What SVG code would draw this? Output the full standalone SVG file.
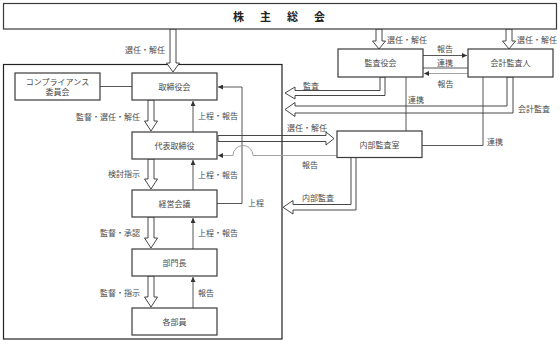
<svg xmlns="http://www.w3.org/2000/svg" width="560" height="344" viewBox="0 0 560 344">
<style>
.box{fill:#fff;stroke:#3a3a3a;stroke-width:1.2}
.t{font-family:"Noto Sans CJK JP","Noto Sans",sans-serif;font-size:8px;fill:#4a4a4a}
.c{text-anchor:middle}
.e{text-anchor:end}
.ln{fill:none;stroke:#444;stroke-width:0.9}
.gl{fill:none;stroke:#999;stroke-width:0.9}
.ha{fill:#fff;stroke:#333;stroke-width:0.9}
.hn{fill:none;stroke:#333;stroke-width:0.9}
.title{font-family:"Noto Sans CJK JP","Noto Sans",sans-serif;font-size:11px;font-weight:bold;fill:#222}
</style>
<defs>
<marker id="ah" markerWidth="5" markerHeight="5" refX="5" refY="2.5" orient="auto" markerUnits="userSpaceOnUse"><path d="M0,0 L5,2.5 L0,5 Z" fill="#333"/></marker>
</defs>
<rect x="0" y="0" width="560" height="344" fill="#fff"/>
<g id="outer"><rect x="3.5" y="64.5" width="278.5" height="274.5" fill="none" stroke="#222" stroke-width="1.2"/></g>
<g id="hollow-arrows">
<path class="ha" d="M170,29 V63 H166.5 L173,72 L179.5,63 H176 V29 Z"/>
<path class="ha" d="M376,29 V41 H372.5 L379,49 L385.5,41 H382 V29 Z"/>
<path class="ha" d="M506,29 V41 H502.5 L509,49 L515.5,41 H512 V29 Z"/>
<path class="ha" d="M148,100 V121 H144.5 L151,131 L157.5,121 H154 V100 Z"/>
<path class="ha" d="M148,159 V179 H144.5 L151,189 L157.5,179 H154 V159 Z"/>
<path class="ha" d="M148,217 V238 H144.5 L151,248 L157.5,238 H154 V217 Z"/>
<path class="ha" d="M148,276 V297 H144.5 L151,307 L157.5,297 H154 V276 Z"/>
<path class="ha" d="M380,77 V90.5 H295 V87 L285,93 L295,99 V95.5 H385 V77 Z"/>
<path class="ha" d="M507,77 V106 H295 V102.5 L285,109.5 L295,116.5 V113 H513 V77 Z"/>
<path class="ha" d="M351,157.5 V204.5 H293 V200.5 L283,207.3 L293,214 V210 H356 V157.5 Z"/>
<path class="hn" d="M218,135.5 H326 V132 L334,138.5 L326,145 V141.5 H218 Z"/>
</g>
<g id="connectors">
<path class="ln" d="M100,86.5 H132"/>
<path class="ln" d="M193,132 V101" marker-end="url(#ah)"/>
<path class="ln" d="M193,190 V160" marker-end="url(#ah)"/>
<path class="ln" d="M193,249 V218" marker-end="url(#ah)"/>
<path class="ln" d="M193,308 V277" marker-end="url(#ah)"/>
<path class="ln" d="M217,203.5 H242 V87 H218" marker-end="url(#ah)"/>
<path class="gl" d="M337,155.5 H253 A10,10 0 0 0 233,155.5 H218" marker-end="url(#ah)"/>
<path class="ln" d="M423,55.5 H467" marker-end="url(#ah)"/>
<path class="ln" d="M423,68 H468"/>
<path class="gl" d="M468,73.5 H424" marker-end="url(#ah)"/>
<path class="ln" d="M406,77 V131"/>
<path class="ln" d="M483,77 V145.5 H422"/>
</g>
<g id="shareholders">
<rect class="box" x="3.5" y="3.5" width="553" height="25.5"/>
<text class="title c" x="238.5 265.5 292.5 319.5" y="20.5">株主総会</text>
</g>
<g id="compliance">
<rect class="box" x="15" y="73" width="85" height="27"/>
<text class="t c" x="57.5" y="84.5">コンプライアンス</text>
<text class="t c" x="57.5" y="95">委員会</text>
</g>
<g id="board"><rect class="box" x="132" y="73" width="85" height="27"/><text class="t c" x="174.5" y="89.5">取締役会</text></g>
<g id="ceo"><rect class="box" x="132" y="132" width="85" height="27"/><text class="t c" x="174.5" y="148.5">代表取締役</text></g>
<g id="mgmt"><rect class="box" x="132" y="190" width="85" height="27"/><text class="t c" x="174.5" y="206.5">経営会議</text></g>
<g id="dept"><rect class="box" x="132" y="249" width="85" height="27"/><text class="t c" x="174.5" y="265.5">部門長</text></g>
<g id="staff"><rect class="box" x="132" y="308" width="85" height="27"/><text class="t c" x="174.5" y="324.5">各部員</text></g>
<g id="auditors"><rect class="box" x="338" y="49" width="85" height="28"/><text class="t c" x="380.5" y="66">監査役会</text></g>
<g id="accountant"><rect class="box" x="468" y="49" width="85" height="28"/><text class="t c" x="510.5" y="66">会計監査人</text></g>
<g id="internal"><rect class="box" x="337" y="131" width="85" height="26.5"/><text class="t c" x="379.5" y="147.5">内部監査室</text></g>
<g id="labels">
<text class="t e" x="165" y="53">選任・解任</text>
<text class="t" x="387" y="43">選任・解任</text>
<text class="t" x="517" y="43">選任・解任</text>
<text class="t e" x="140" y="119.5">監督・選任・解任</text>
<text class="t" x="198" y="119">上程・報告</text>
<text class="t e" x="140" y="177">検討指示</text>
<text class="t" x="198" y="178">上程・報告</text>
<text class="t" x="248" y="206">上程</text>
<text class="t e" x="140" y="236">監督・承認</text>
<text class="t" x="198" y="236">上程・報告</text>
<text class="t e" x="140" y="296">監督・指示</text>
<text class="t" x="198" y="296">報告</text>
<text class="t c" x="445" y="52">報告</text>
<text class="t c" x="445" y="65.5">連携</text>
<text class="t c" x="445.5" y="87">報告</text>
<text class="t" x="303" y="88.5">監査</text>
<text class="t" x="408" y="103">連携</text>
<text class="t" x="518" y="112">会計監査</text>
<text class="t" x="487" y="145">連携</text>
<text class="t" x="287" y="131">選任・解任</text>
<text class="t" x="302" y="168">報告</text>
<text class="t" x="302" y="201">内部監査</text>
</g>
</svg>
